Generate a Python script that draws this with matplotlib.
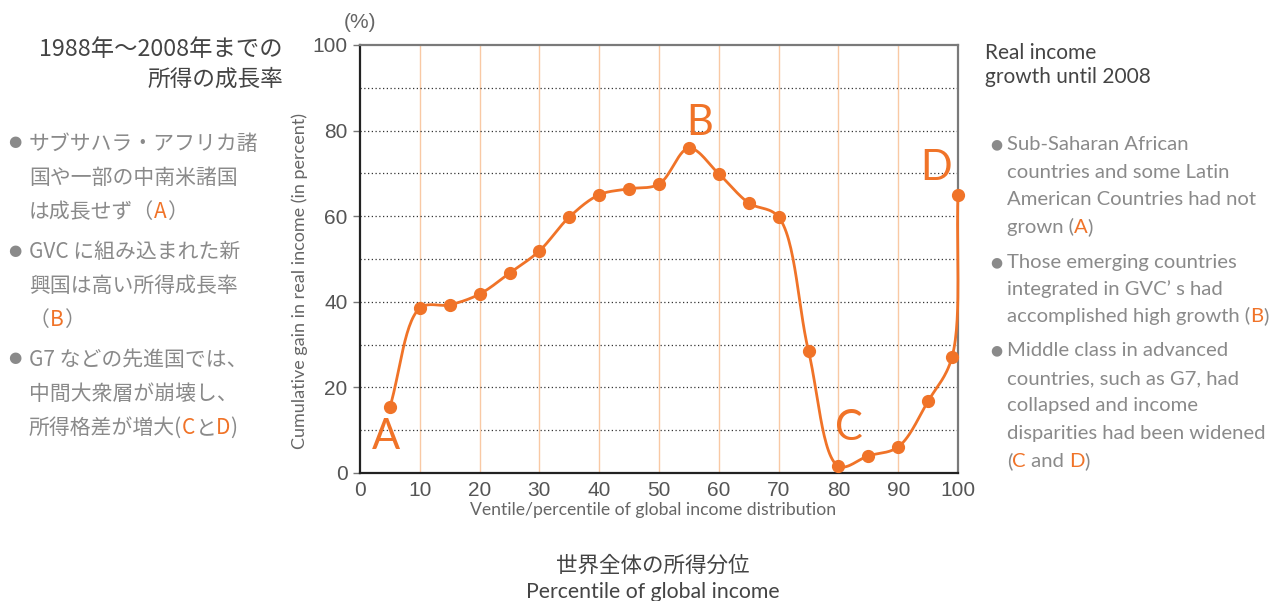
import numpy as np
import matplotlib.pyplot as plt

# ventile / percentile of global income distribution and cumulative real income gain (%)
pctl = [5, 10, 15, 20, 25, 30, 35, 40, 45, 50, 55, 60, 65, 70, 75, 80, 85, 90, 95, 99, 100]
gain = [15.4, 38.5, 39.3, 41.8, 46.7, 51.9, 59.8, 65.0, 66.4, 67.5, 75.9, 69.9,
        63.1, 59.8, 28.5, 1.6, 4.0, 6.1, 16.8, 27.1, 65.0]

# letter annotations
letters = ["A", "B", "C", "D"]
letter_x = [4.3, 56.8, 81.8, 96.4]
letter_y = [8.4, 81.8, 10.6, 71.3]

ORANGE = "#F07328"
GRID_OR = "#F9C9A4"
DARK = "#444444"
GRAY = "#8A8A8A"
JP = ["Noto Sans CJK JP", "DejaVu Sans"]
EN = ["Lato", "DejaVu Sans"]
NUM = ["Liberation Sans", "DejaVu Sans"]

W, H = 1271, 601


def smooth(xs, ys, n=30, alpha=0.5):
    # centripetal Catmull-Rom through the points (in a roughly pixel-scaled space)
    pts = np.column_stack([np.asarray(xs, float) * 5.98, np.asarray(ys, float) * 4.28])
    pts = np.vstack([2 * pts[0] - pts[1], pts, 2 * pts[-1] - pts[-2]])
    out = []
    for i in range(1, len(pts) - 2):
        p0, p1, p2, p3 = pts[i - 1], pts[i], pts[i + 1], pts[i + 2]
        t0 = 0.0
        t1 = t0 + np.linalg.norm(p1 - p0) ** alpha
        t2 = t1 + np.linalg.norm(p2 - p1) ** alpha
        t3 = t2 + np.linalg.norm(p3 - p2) ** alpha
        t = np.linspace(t1, t2, n)[:, None]
        a1 = (t1 - t) / (t1 - t0) * p0 + (t - t0) / (t1 - t0) * p1
        a2 = (t2 - t) / (t2 - t1) * p1 + (t - t1) / (t2 - t1) * p2
        a3 = (t3 - t) / (t3 - t2) * p2 + (t - t2) / (t3 - t2) * p3
        b1 = (t2 - t) / (t2 - t0) * a1 + (t - t0) / (t2 - t0) * a2
        b2 = (t3 - t) / (t3 - t1) * a2 + (t - t1) / (t3 - t1) * a3
        c = (t2 - t) / (t2 - t1) * b1 + (t - t1) / (t2 - t1) * b2
        out.append(c)
    c = np.vstack(out)
    return c[:, 0] / 5.98, c[:, 1] / 4.28


fig = plt.figure(figsize=(W / 100, H / 100), dpi=100)
ax = fig.add_axes([360 / W, 1 - 473 / H, 598 / W, 428 / H])

ax.set_xlim(0, 100)
ax.set_ylim(0, 100)

for v in range(10, 100, 10):
    ax.axvline(v, color=GRID_OR, lw=1.0, zorder=1)
    ax.axhline(v, color="#333333", lw=0.9, ls=(0, (1, 2)), zorder=1)

sx, sy = smooth(pctl, gain)
ax.plot(sx, sy, color=ORANGE, lw=2.0, zorder=3, clip_on=False)
ax.plot(pctl, gain, "o", color=ORANGE, ms=8.5, zorder=4, clip_on=False)

for s, lx, ly in zip(letters, letter_x, letter_y):
    ax.text(lx, ly, s, color=ORANGE, fontsize=30, family=EN, ha="center", va="center", zorder=5)

ax.set_xticks(range(0, 101, 10))
ax.set_yticks(range(0, 101, 20))
ax.tick_params(axis="x", length=0, pad=6, labelsize=15, labelcolor="#555555")
ax.tick_params(axis="y", length=5, width=1, color="#777777", pad=4, labelsize=15, labelcolor="#555555")
for lab in ax.get_xticklabels() + ax.get_yticklabels():
    lab.set_family(NUM)

ax.spines["left"].set_color("#222222")
ax.spines["bottom"].set_color("#222222")
ax.spines["top"].set_color("#7A7A7A")
ax.spines["right"].set_color("#7A7A7A")
for sp in ax.spines.values():
    sp.set_linewidth(1.6)

fig.text(300 / W, 1 - 281 / H, "Cumulative gain in real income (in percent)", rotation=90,
         ha="center", va="center", fontsize=13, color="#666666", family=EN)
fig.text(653 / W, 1 - 510 / H, "Ventile/percentile of global income distribution",
         ha="center", va="center", fontsize=12.7, color="#666666", family=EN)
fig.text(360 / W, 1 - 22 / H, "(%)", ha="center", va="center", fontsize=15, color="#666666",
         family=NUM)

# bottom captions
fig.text(653 / W, 1 - 566 / H, "世界全体の所得分位", ha="center", va="center", fontsize=15.5,
         color=DARK, family=JP)
fig.text(653 / W, 1 - 592 / H, "Percentile of global income", ha="center", va="center",
         fontsize=15.3, color=DARK, family=EN)

# left titles
fig.text(283 / W, 1 - 50 / H, "1988年～2008年までの", ha="right", va="center", fontsize=16.8,
         color=DARK, family=JP)
fig.text(283 / W, 1 - 79 / H, "所得の成長率", ha="right", va="center", fontsize=16.3,
         color=DARK, family=JP)

# right titles
fig.text(985 / W, 1 - 53 / H, "Real income", ha="left", va="center", fontsize=15,
         color=DARK, family=EN)
fig.text(985 / W, 1 - 77 / H, "growth until 2008", ha="left", va="center", fontsize=15,
         color=DARK, family=EN)

renderer = fig.canvas.get_renderer()


def seg_line(x, y, parts, size, family):
    # draw consecutive coloured pieces on one baseline
    for s, c in parts:
        t = fig.text(x / W, 1 - y / H, s, color=c, fontsize=size, family=family,
                     ha="left", va="baseline")
        x += t.get_window_extent(renderer).width


jp_lines = [
    (142, True, [("サブサハラ・アフリカ諸", GRAY)]),
    (176, False, [("国や一部の中南米諸国", GRAY)]),
    (210, False, [("は成長せず（", GRAY), ("A", ORANGE), ("）", GRAY)]),
    (250, True, [("GVC に組み込まれた新", GRAY)]),
    (284, False, [("興国は高い所得成長率", GRAY)]),
    (318, False, [("（", GRAY), ("B", ORANGE), ("）", GRAY)]),
    (358, True, [("G7 などの先進国では、", GRAY)]),
    (392, False, [("中間大衆層が崩壊し、", GRAY)]),
    (426, False, [("所得格差が増大(", GRAY), ("C", ORANGE), ("と", GRAY), ("D", ORANGE), (")", GRAY)]),
]
for y, bullet, parts in jp_lines:
    if bullet:
        fig.text(15 / W, 1 - y / H, "●", ha="center", va="center", fontsize=11, color=GRAY,
                 family=["DejaVu Sans"])
    seg_line(29, y + 8, parts, 15, JP)

en_lines = [
    (144, True, [("Sub-Saharan African", GRAY)]),
    (172, False, [("countries and some Latin", GRAY)]),
    (199, False, [("American Countries had not", GRAY)]),
    (227, False, [("grown (", GRAY), ("A", ORANGE), (")", GRAY)]),
    (262, True, [("Those emerging countries", GRAY)]),
    (289, False, [("integrated in GVC’ s had", GRAY)]),
    (316, False, [("accomplished high growth (", GRAY), ("B", ORANGE), (")", GRAY)]),
    (350, True, [("Middle class in advanced", GRAY)]),
    (378, False, [("countries, such as G7, had", GRAY)]),
    (405, False, [("collapsed and income", GRAY)]),
    (433, False, [("disparities had been widened", GRAY)]),
    (461, False, [("(", GRAY), ("C", ORANGE), (" and ", GRAY), ("D", ORANGE), (")", GRAY)]),
]
for y, bullet, parts in en_lines:
    if bullet:
        fig.text(996 / W, 1 - y / H, "●", ha="center", va="center", fontsize=10, color=GRAY,
                 family=["DejaVu Sans"])
    seg_line(1007, y + 6, parts, 14.6, EN)

fig.savefig("out.png", dpi=100)
